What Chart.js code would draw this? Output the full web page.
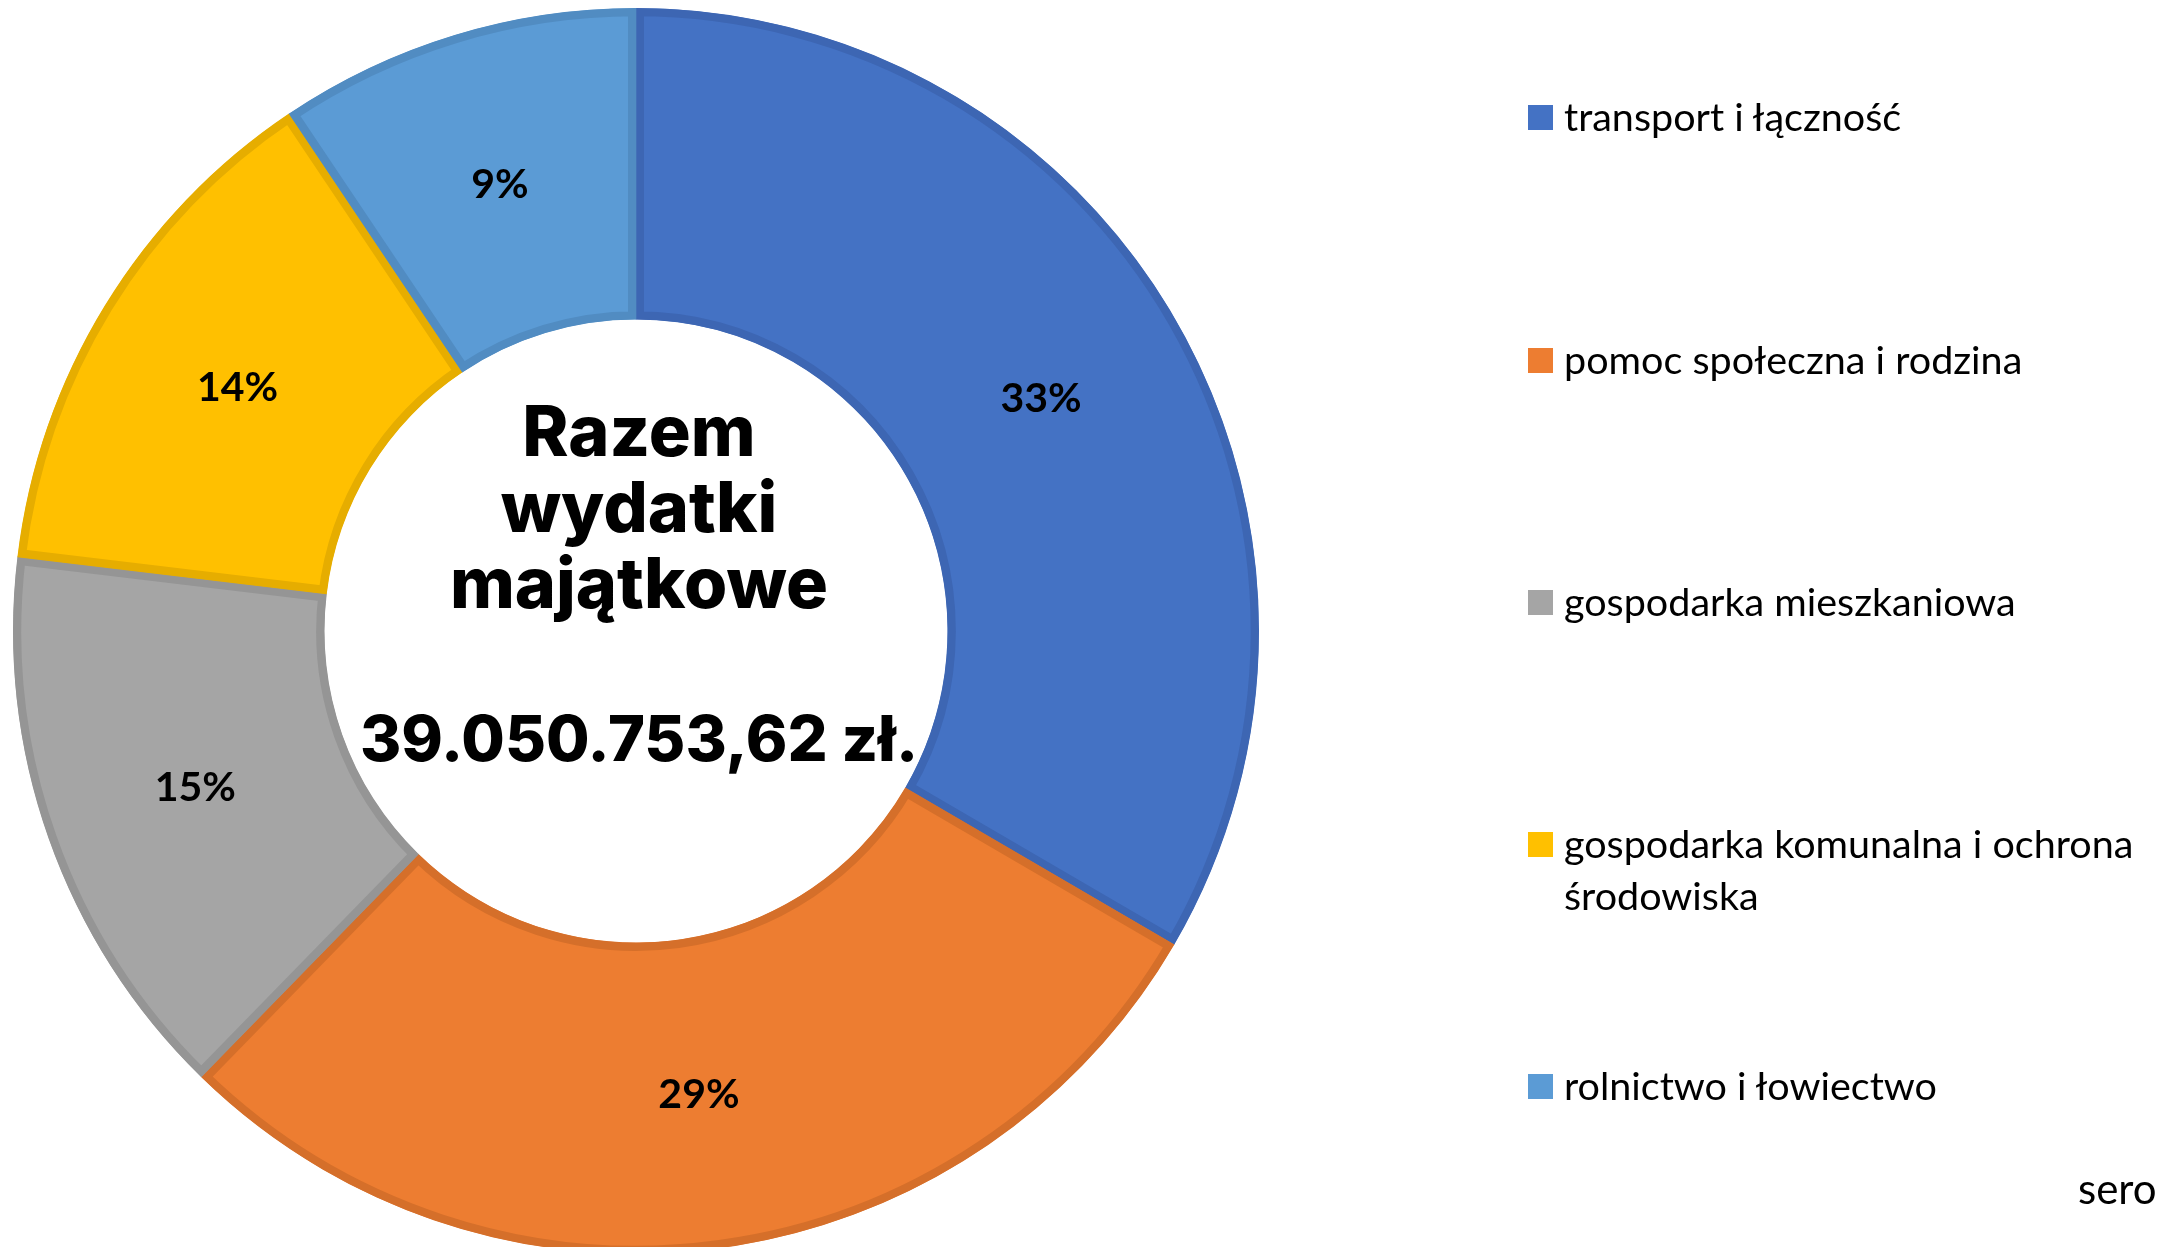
<!DOCTYPE html>
<html>
<head>
<meta charset="utf-8">
<script src="https://cdn.jsdelivr.net/npm/chart.js@4.4.1/dist/chart.umd.min.js"></script>
<style>
  html, body { margin: 0; padding: 0; background: #fff; overflow: hidden; width: 2165px; height: 1247px; }
  #wrap { position: absolute; left: 0; top: 0; width: 2165px; height: 1262px; }
  #legend { position: absolute; left: 1528px; top: 0; width: 637px; font-family: Lato, "Open Sans", sans-serif; font-size: 39.5px; color: #000; }
  .item { position: absolute; left: 0; display: flex; align-items: flex-start; }
  .box { width: 25px; height: 25px; margin-top: 10px; margin-right: 11px; flex: none; }
  .txt { line-height: 52px; margin-top: -5px; width: 600px; }
  #sero { position: absolute; left: 2078px; top: 1163px; font-family: Lato, sans-serif; font-size: 42px; white-space: nowrap; }
</style>
</head>
<body>
<div id="wrap"><canvas id="chart"></canvas></div>
<div id="legend"></div>
<div id="sero">sero</div>
<script>
const categories = [
  'transport i łączność',
  'pomoc społeczna i rodzina',
  'gospodarka mieszkaniowa',
  'gospodarka komunalna i ochrona środowiska',
  'rolnictwo i łowiectwo'
];
// share of total capital spending, in percent
const shares = [33.4, 28.9, 14.6, 13.7, 9.4];
const fillColors = ['#4472C4', '#ED7D31', '#A5A5A5', '#FFC000', '#5B9BD5'];
const edgeColors = ['#3D66B3', '#D56F2A', '#959595', '#E6AD00', '#518CC2'];
const centerLines = ['Razem', 'wydatki', 'majątkowe'];
const totalText = '39.050.753,62 zł.';
const legendTops = [95, 338, 580, 822, 1064];

const total = shares.reduce((a, b) => a + b, 0);

const sliceLabels = {
  id: 'sliceLabels',
  afterDatasetsDraw(chart) {
    const ctx = chart.ctx;
    const meta = chart.getDatasetMeta(0);
    ctx.save();
    ctx.font = 'bold 41px Lato, "Open Sans", sans-serif';
    ctx.fillStyle = '#000';
    ctx.textAlign = 'center';
    ctx.textBaseline = 'middle';
    meta.data.forEach((arc, i) => {
      const p = arc.getCenterPoint();
      ctx.fillText(Math.round(shares[i] / total * 100) + '%', p.x, p.y + 1);
    });
    ctx.restore();
  }
};

const centerText = {
  id: 'centerText',
  afterDatasetsDraw(chart) {
    const ctx = chart.ctx;
    const arc = chart.getDatasetMeta(0).data[0];
    const cx = arc.x, cy = arc.y;
    ctx.save();
    ctx.fillStyle = '#000';
    ctx.textAlign = 'center';
    ctx.textBaseline = 'alphabetic';
    ctx.font = '800 70px Inter, "Open Sans", sans-serif';
    centerLines.forEach((t, i) => ctx.fillText(t, cx + 3, cy - 175 + i * 76));
    ctx.font = '800 63px Inter, "Open Sans", sans-serif';
    ctx.fillText(totalText, cx + 3, cy + 130);
    ctx.restore();
  }
};

new Chart(document.getElementById('chart'), {
  type: 'doughnut',
  data: {
    labels: categories,
    datasets: [{
      data: shares,
      backgroundColor: fillColors,
      borderColor: edgeColors,
      borderWidth: 8,
      borderAlign: 'inner'
    }]
  },
  options: {
    responsive: true,
    maintainAspectRatio: false,
    animation: false,
    cutout: '50%',
    layout: { padding: { left: 13, top: 8, bottom: 8, right: 906 } },
    plugins: {
      legend: { display: false },
      tooltip: { enabled: false }
    }
  },
  plugins: [sliceLabels, centerText]
});

const legend = document.getElementById('legend');
categories.forEach((c, i) => {
  const item = document.createElement('div');
  item.className = 'item';
  item.style.top = legendTops[i] + 'px';
  item.innerHTML = '<div class="box" style="background:' + fillColors[i] + '"></div><div class="txt">' + c + '</div>';
  legend.appendChild(item);
});
</script>
</body>
</html>
